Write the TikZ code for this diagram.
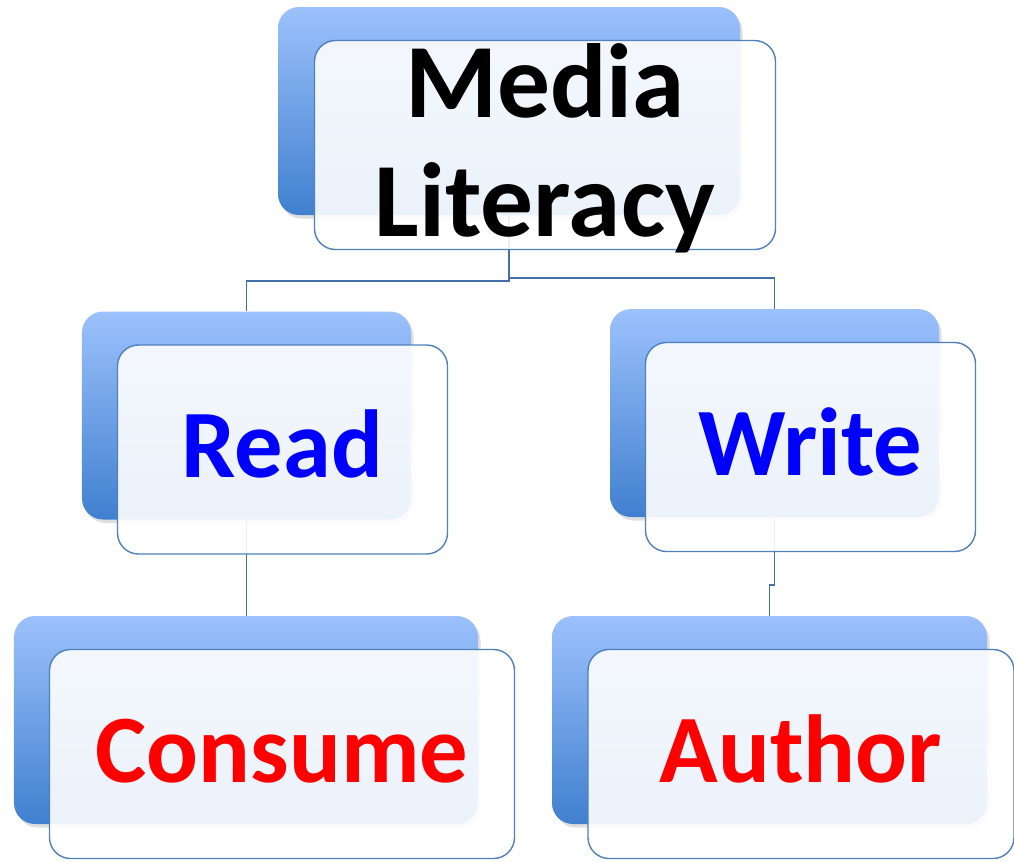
\documentclass[tikz,border=0pt]{standalone}
\usepackage{fontspec}
\setmainfont{Carlito}
\usepackage{tikz}
\usetikzlibrary{positioning, calc, shadows}
\definecolor{backtop}{RGB}{156,193,252}
\definecolor{backbot}{RGB}{64,128,207}
\definecolor{edgeblue}{RGB}{79,129,189}
\definecolor{linkblue}{RGB}{68,112,170}

\begin{document}
\begin{tikzpicture}[
    back/.style={rectangle, rounded corners=0.42cm, top color=backtop, bottom color=backbot, minimum height=4.16cm, drop shadow={opacity=0.25, shadow xshift=0.05cm, shadow yshift=-0.07cm}},
    front/.style={rectangle, draw=edgeblue, line width=0.8pt, fill=white, fill opacity=0.9, text opacity=1, rounded corners=0.42cm, minimum height=4.18cm, align=center, text height=36pt, text depth=4pt, font=\bfseries\fontsize{55}{60}\selectfont},
    link/.style={draw=linkblue, line width=1.1pt}
]
    \useasboundingbox (0,0) rectangle (20.28,-17.22);

    % back boxes
    \node [back, minimum width=9.24cm] (mediab) at (10.18,-2.22) {};
    \node [back, minimum width=6.58cm] (readb) at (4.93,-8.31) {};
    \node [back, minimum width=6.58cm] (writeb) at (15.49,-8.26) {};
    \node [back, minimum width=9.28cm] (consumeb) at (4.92,-14.40) {};
    \node [back, minimum width=8.70cm] (authorb) at (15.39,-14.40) {};

    % Connectors
    \draw [link] (mediab.south) -- ++(0,-1.32) -| (readb.north);
    \draw [link] (mediab.south) -- ++(0,-1.26) -| (writeb.north);
    \draw [link] (readb.south) -- (readb.south |- consumeb.north);
    \draw [link] (writeb.south) -- ++(0,-1.36) -| (authorb.north);

    % front boxes
    \node [front, minimum width=9.22cm, inner sep=0pt, text height=110pt, text depth=6pt, font=\bfseries\fontsize{60}{67.7}\selectfont] (media) at ($(mediab)+(0.72,-0.68)$) {Media\\Literacy};
    \node [front, minimum width=6.6cm, text=blue] (read) at ($(readb)+(0.72,-0.68)$) {Read};
    \node [front, minimum width=6.6cm, text=blue] (write) at ($(writeb)+(0.72,-0.68)$) {Write};
    \node [front, minimum width=9.3cm, text=red] (consume) at ($(consumeb)+(0.72,-0.68)$) {Consume};
    \node [front, minimum width=8.52cm, text=red] (author) at ($(authorb)+(0.63,-0.68)$) {Author};

\end{tikzpicture}
\end{document}
